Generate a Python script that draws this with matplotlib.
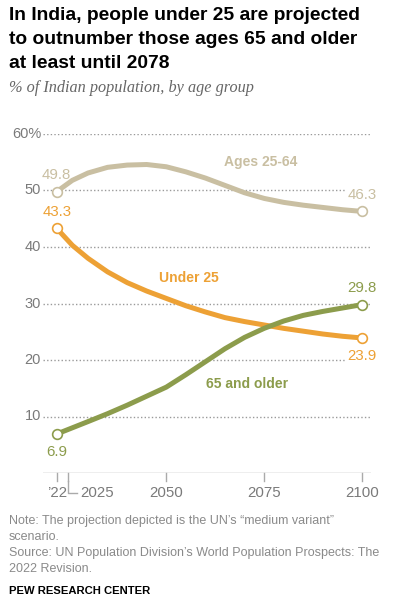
import matplotlib
matplotlib.use('Agg')
import matplotlib.pyplot as plt

# ----------------------------
# Data
# ----------------------------
years = [2022, 2026, 2030, 2035, 2040, 2045, 2050, 2055, 2060, 2065, 2070,
         2075, 2080, 2085, 2090, 2095, 2100]
ages_25_64 = [49.8, 51.8, 53.1, 54.1, 54.5, 54.6, 54.2, 53.3, 52.2, 50.9, 49.6,
              48.6, 47.9, 47.4, 47.0, 46.6, 46.3]
under_25 = [43.3, 40.3, 38.0, 35.6, 33.7, 32.2, 30.9, 29.6, 28.5, 27.5, 26.8,
            26.2, 25.6, 25.1, 24.6, 24.2, 23.9]
over_65 = [6.9, 8.0, 9.1, 10.5, 12.0, 13.6, 15.2, 17.4, 19.7, 22.0, 24.0,
           25.6, 26.9, 27.9, 28.6, 29.2, 29.8]

yticks = [10, 20, 30, 40, 50, 60]
ytick_labels = ['10', '20', '30', '40', '50', '60%']
xticks = [2022, 2025, 2050, 2075, 2100]

c_mid = '#C9BFA2'
c_young = '#EDA135'
c_old = '#8C9C4C'
c_grid = '#9A9A9A'
c_gray = '#7A7A7A'
FONT = 'Liberation Sans'

W, H = 396, 606
fig = plt.figure(figsize=(W / 100, H / 100), dpi=100)
ax = fig.add_axes([43 / W, (H - 473) / H, (371 - 43) / W, (473 - 134) / H])
ax.set_xlim(2018.5, 2102.3)
ax.set_ylim(0, 60)
ax.axis('off')

# gridlines + y labels
for y, lbl in zip(yticks, ytick_labels):
    ax.axhline(y, color=c_grid, lw=1.0, ls=(0, (1, 1.6)), zorder=1)
    ax.text(2018.0, y, lbl, ha='right', va='center', fontsize=10.5,
            color=c_gray, family=FONT)

# baseline + ticks
ax.axhline(0, color='#AAAAAA', lw=1.0, zorder=1)
for x in xticks:
    ax.plot([x, x], [0, -1.5], color='#AAAAAA', lw=1.0, clip_on=False)
ax.plot([2025, 2025, 2027.3], [-1.5, -3.5, -3.5], color='#AAAAAA', lw=1.0, clip_on=False)
ax.text(2022, -3.5, "\u201922", ha='center', va='center', fontsize=10.8,
        color=c_gray, family=FONT)
ax.text(2028.0, -3.5, '2025', ha='left', va='center', fontsize=10.8,
        color=c_gray, family=FONT)
for x in xticks[2:]:
    ax.text(x, -3.5, str(x), ha='center', va='center', fontsize=10.8,
            color=c_gray, family=FONT)

# lines
for vals, col in [(ages_25_64, c_mid), (under_25, c_young), (over_65, c_old)]:
    ax.plot(years, vals, color=col, lw=3.6, solid_capstyle='round',
            solid_joinstyle='round', zorder=3)
    ax.plot([years[0], years[-1]], [vals[0], vals[-1]], ls='none', marker='o',
            ms=7, mfc='white', mec=col, mew=1.2, zorder=4, clip_on=False)

lab = dict(fontsize=10.8, family=FONT, ha='center', textcoords='offset points',
           bbox=dict(boxstyle='square,pad=0.15', fc='white', ec='none'), zorder=2)
ax.annotate('49.8', (years[0], ages_25_64[0]), xytext=(0, 7), va='bottom', color=c_mid, **lab)
ax.annotate('46.3', (years[-1], ages_25_64[-1]), xytext=(0, 7), va='bottom', color=c_mid, **lab)
ax.annotate('43.3', (years[0], under_25[0]), xytext=(0, 7), va='bottom', color=c_young, **lab)
ax.annotate('23.9', (years[-1], under_25[-1]), xytext=(0, -8), va='top', color=c_young, **lab)
ax.annotate('29.8', (years[-1], over_65[-1]), xytext=(0, 7), va='bottom', color=c_old, **lab)
ax.annotate('6.9', (years[0], over_65[0]), xytext=(0, -8), va='top', color=c_old, **lab)

# series labels
ax.text(2074.0, 55.1, 'Ages 25-64', ha='center', va='center', fontsize=10,
        fontweight='bold', color=c_mid, family=FONT)
ax.text(2055.8, 34.6, 'Under 25', ha='center', va='center', fontsize=10,
        fontweight='bold', color=c_young, family=FONT)
ax.text(2070.6, 15.8, '65 and older', ha='center', va='center', fontsize=10,
        fontweight='bold', color=c_old, family=FONT)

# title block
fig.text(9 / W, 1 - 7 / H, 'In India, people under 25 are projected\n'
         'to outnumber those ages 65 and older\nat least until 2078',
         ha='left', va='top', fontsize=13.9, fontweight='bold', color='black',
         family=FONT, linespacing=1.52)
fig.text(9 / W, 1 - 88 / H, '% of Indian population, by age group', ha='left', va='center',
         fontsize=11.7, style='italic', color='#666666', family='Liberation Serif')

# footer
fig.text(9 / W, 1 - 515 / H,
         'Note: The projection depicted is the UN\u2019s \u201cmedium variant\u201d\n'
         'scenario.\n'
         'Source: UN Population Division\u2019s World Population Prospects: The\n'
         '2022 Revision.', ha='left', va='top', fontsize=9.0, color='#8A8A8A',
         family=FONT, linespacing=1.45)
fig.text(9 / W, 1 - 591 / H, 'PEW RESEARCH CENTER', ha='left', va='center',
         fontsize=8.1, fontweight='bold', color='black', family=FONT)

fig.savefig('out.png', dpi=100, facecolor='white')
